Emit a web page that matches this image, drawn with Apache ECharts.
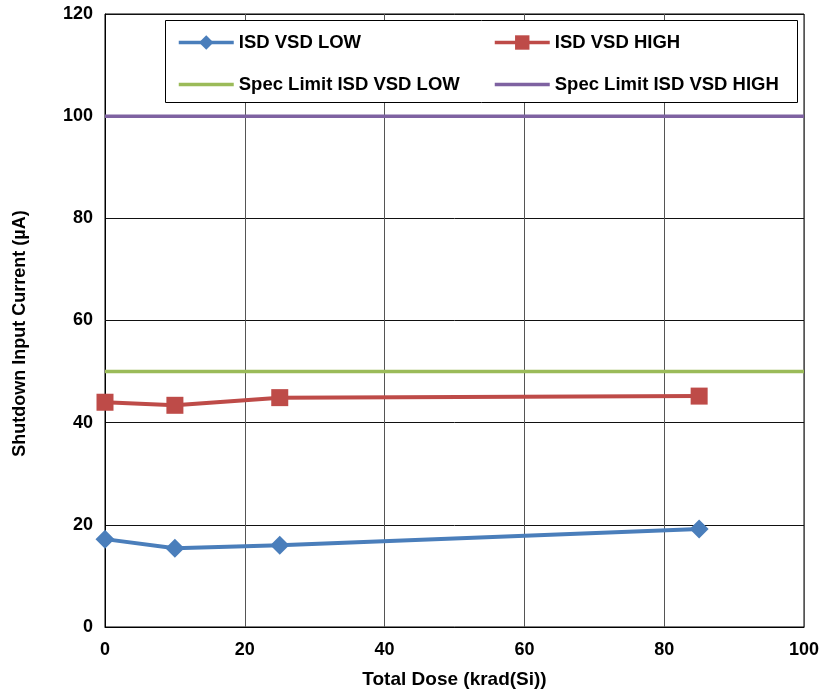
<!DOCTYPE html>
<html><head><meta charset="utf-8">
<script src="https://cdn.jsdelivr.net/npm/echarts@6/dist/echarts.min.js"></script>
<style>html,body{margin:0;padding:0;background:#fff}#c{width:823px;height:697px}</style>
</head><body><div id="c"></div>
<script>
const doses = [0, 10, 25, 85];
const isdLow = [17.2, 15.4, 16.0, 19.2];
const isdHigh = [44.0, 43.4, 44.9, 45.2];
const specX = [0, 100];
const specLow = [50, 50];
const specHigh = [100, 100];
const seriesNames = ['ISD VSD LOW', 'ISD VSD HIGH', 'Spec Limit ISD VSD LOW', 'Spec Limit ISD VSD HIGH'];

const pairs = (xs, ys) => xs.map((x, i) => [x, ys[i]]);
const font = 'Liberation Sans, Arial, sans-serif';
const chart = echarts.init(document.getElementById('c'));
const legendText = {fontFamily: font, fontWeight: 'bold', fontSize: 18.5, lineHeight: 18, color: '#000'};
const legendCommon = {orient: 'vertical', top: 28, itemGap: 23, itemWidth: 55, itemHeight: 18,
  textStyle: legendText, lineStyle: {width: 3.5}, z: 10};
chart.setOption({
  animation: false,
  grid: {left: 105, right: 19, top: 14, bottom: 70, show: true, borderColor: '#000', borderWidth: 1},
  graphic: [{type: 'rect', shape: {x: 165.5, y: 20.5, width: 632, height: 82}, style: {fill: '#fff', stroke: '#000', lineWidth: 1}, z: 5}],
  legend: [
    Object.assign({left: 172, data: [seriesNames[0], {name: seriesNames[2], itemStyle: {opacity: 0}}]}, legendCommon),
    Object.assign({left: 488, data: [seriesNames[1], {name: seriesNames[3], itemStyle: {opacity: 0}}]}, legendCommon)
  ],
  xAxis: {
    type: 'value', min: 0, max: 100, interval: 20,
    name: 'Total Dose (krad(Si))', nameLocation: 'middle', nameGap: 43,
    nameTextStyle: {fontFamily: font, fontWeight: 'bold', fontSize: 19, color: '#000'},
    axisLine: {lineStyle: {color: '#000'}},
    axisTick: {show: false},
    axisLabel: {fontFamily: font, fontWeight: 'bold', fontSize: 18, color: '#000', margin: 14},
    splitLine: {lineStyle: {color: '#555', width: 1}}
  },
  yAxis: {
    type: 'value', min: 0, max: 120, interval: 20,
    name: 'Shutdown Input Current (µA)', nameLocation: 'middle', nameGap: 76,
    nameTextStyle: {fontFamily: font, fontWeight: 'bold', fontSize: 18, color: '#000', padding: [0, 26, 0, 0]},
    axisLine: {lineStyle: {color: '#000'}},
    axisTick: {show: false},
    axisLabel: {fontFamily: font, fontWeight: 'bold', fontSize: 18, color: '#000', margin: 12},
    splitLine: {lineStyle: {color: '#111', width: 1}}
  },
  series: [
    {name: seriesNames[0], type: 'line', data: pairs(doses, isdLow), symbol: 'diamond', symbolSize: 19,
     lineStyle: {color: '#4A7EBB', width: 4}, itemStyle: {color: '#4A7EBB'}, z: 4},
    {name: seriesNames[1], type: 'line', data: pairs(doses, isdHigh), symbol: 'rect', symbolSize: 17,
     lineStyle: {color: '#BE4B48', width: 4}, itemStyle: {color: '#BE4B48', borderRadius: 2}, z: 4},
    {name: seriesNames[2], type: 'line', data: pairs(specX, specLow), symbol: 'none',
     lineStyle: {color: '#9BBB59', width: 3.5}, itemStyle: {color: '#9BBB59'}, z: 3},
    {name: seriesNames[3], type: 'line', data: pairs(specX, specHigh), symbol: 'none',
     lineStyle: {color: '#7E62A1', width: 3.5}, itemStyle: {color: '#7E62A1'}, z: 3}
  ]
});
</script></body></html>
